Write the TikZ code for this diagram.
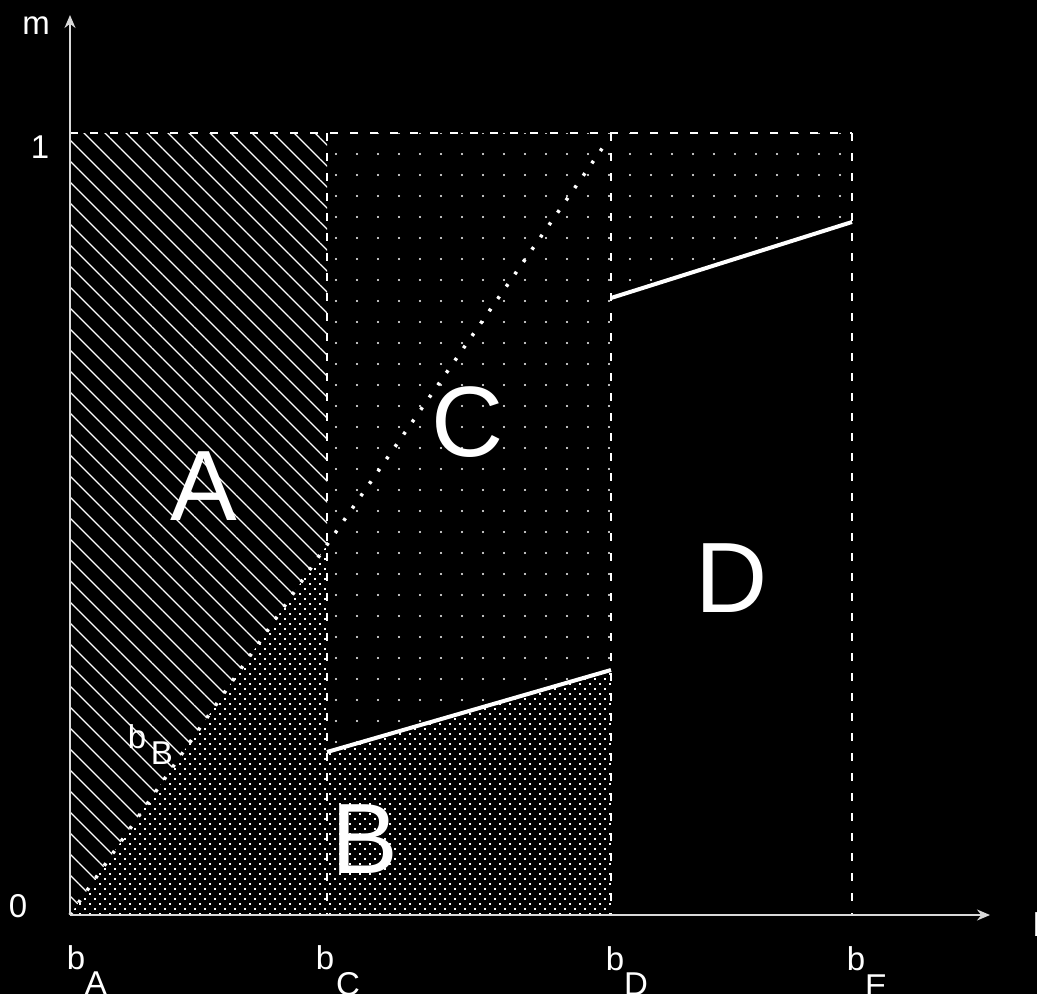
\documentclass[tikz,border=0pt]{standalone}
\usepackage{fontspec}
\setmainfont{Liberation Sans}
\usetikzlibrary{patterns.meta,arrows.meta}
\begin{document}
\begin{tikzpicture}[x=1pt,y=-1pt,
  axisline/.style={draw=white!85!black,line width=2pt,-{Stealth[length=13pt,width=11pt]}},
  dashb/.style={draw=white,line width=2.8pt,dash pattern=on 8pt off 12pt},
  bline/.style={draw=white,line width=4pt},
  diagline/.style={draw=white,line width=3.5pt,dash pattern=on 3pt off 12pt},
  bigletter/.style={text=white,font=\fontsize{100}{100}\selectfont,inner sep=0pt},
  lbl/.style={text=white,font=\fontsize{33}{33}\selectfont,inner sep=0pt},
]
\fill[black] (0,0) rectangle (1037,994);
\useasboundingbox (0,0) rectangle (1037,994);

% key points
\coordinate (O) at (70,915);
\coordinate (Ytop) at (70,15);
\coordinate (Xend) at (990,915);
\coordinate (TL) at (70,133);
\coordinate (TC) at (327,133);
\coordinate (TD) at (611,133);
\coordinate (TE) at (852,133);
\coordinate (BC) at (327,915);
\coordinate (BD) at (611,915);
\coordinate (BE) at (852,915);
\coordinate (DiagC) at (327,545);
\coordinate (DiagEnd) at (608,140);
\coordinate (L1a) at (327,752);
\coordinate (L1b) at (611,670);
\coordinate (L2a) at (611,298);
\coordinate (L2b) at (852,222);

% region A: hatching
\fill[pattern={Lines[angle=-45,distance=14.85pt,line width=1.2pt]},pattern color=white]
  (TL) -- (TC) -- (DiagC) -- (O) -- cycle;
% region B: dense dots
\fill[pattern={Dots[angle=45,distance=7.07pt,radius=1.2pt]},pattern color=white]
  (O) -- (DiagC) -- (L1a) -- (L1b) -- (BD) -- cycle;
% region C: sparse dots
\fill[pattern={Dots[distance=21pt,radius=1.2pt]},pattern color=white]
  (TC) -- (TE) -- (L2b) -- (L2a) -- (L1b) -- (L1a) -- cycle;

% dashed boundaries
\draw[dashb] (TL) -- (TE);
\draw[dashb] (TC) -- (BC);
\draw[dashb] (TD) -- (BD);
\draw[dashb] (TE) -- (BE);

% dotted diagonal
\draw[diagline] (O) -- (DiagEnd);

% solid boundaries
\draw[bline] (L1a) -- (L1b);
\draw[bline] (L2a) -- (L2b);

% axes
\draw[axisline] (O) -- (Ytop);
\draw[axisline] (O) -- (Xend);

% region letters
\node[bigletter] (lA) at (204,486) {A};
\node[bigletter] (lB) at (365,839) {B};
\node[bigletter] (lC) at (468,422) {C};
\node[bigletter] (lD) at (732,578) {D};

% axis labels
\node[lbl] (m) at (36,26) {m};
\node[lbl] (one) at (40,147) {1};
\node[lbl] (zero) at (18,906) {0};
\node[lbl,anchor=west] (bx) at (1033,925) {b};

\node[lbl] (bA) at (76,958) {b};
\node[lbl,anchor=north] (sA) at (96,972) {A};
\node[lbl] (bC) at (325,958) {b};
\node[lbl,anchor=north] (sC) at (348,972) {C};
\node[lbl] (bD) at (615,959) {b};
\node[lbl,anchor=north] (sD) at (636,973) {D};
\node[lbl] (bE) at (856,959) {b};
\node[lbl,anchor=north] (sE) at (876,975) {E};

\node[lbl] (bB) at (137,737) {b};
\node[lbl] (sB) at (162,753) {B};
\end{tikzpicture}
\end{document}
